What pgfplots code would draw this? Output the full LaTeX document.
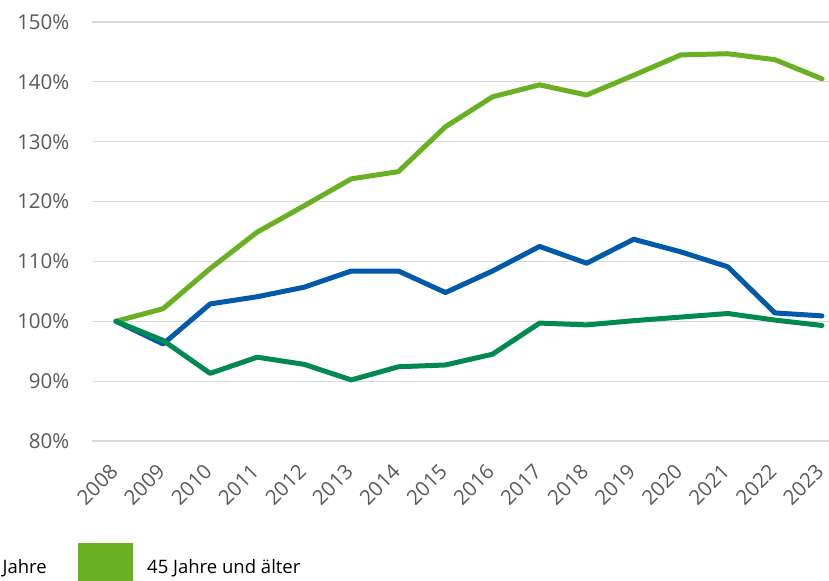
\documentclass[border=0pt]{standalone}
\usepackage{fontspec}
\setmainfont{Open Sans}
\usepackage{pgfplots}
\pgfplotsset{compat=1.18}
\definecolor{lgreen}{HTML}{6AB023}
\definecolor{dblue}{HTML}{005AA9}
\definecolor{dgreen}{HTML}{008A50}
\definecolor{gridc}{HTML}{D9D9D9}
\definecolor{tickc}{HTML}{595959}
\newcommand{\tfont}{\fontsize{20.5bp}{24bp}\selectfont}
\newcommand{\lfont}{\fontsize{18.5bp}{22bp}\selectfont}
\begin{document}
\begin{tikzpicture}
\clip (0bp,0bp) rectangle (829bp,581bp);
\begin{axis}[
  at={(92.5bp,140bp)}, anchor=south west,
  scale only axis, width=736.5bp, height=419bp,
  xmin=2007.5, xmax=2023.15, ymin=80, ymax=150,
  xtick={2008,2009,...,2023}, ytick={80,90,...,150},
  axis line style={draw=none},
  major tick style={draw=none},
  ymajorgrids, grid style={gridc, line width=1.2bp},
  /pgf/number format/assume math mode=true,
  /pgf/number format/1000 sep={},
  tick label style={font=\tfont, text=tickc},
  yticklabel={\pgfmathprintnumber{\tick}\%},
  yticklabel style={anchor=east, inner sep=0pt, xshift=-23bp},
  xticklabel style={xshift=-2bp, yshift=-27bp, rotate=45, anchor=east, inner sep=0pt},
  clip=false,
  every axis plot/.append style={line width=5bp, line join=round, line cap=round},
]
\addplot[lgreen] coordinates {
 (2008,100) (2009,102.1) (2010,108.8) (2011,114.9) (2012,119.3) (2013,123.8)
 (2014,125.0) (2015,132.5) (2016,137.5) (2017,139.5) (2018,137.8) (2019,141.1)
 (2020,144.5) (2021,144.7) (2022,143.7) (2023,140.5)};
\addplot[dblue] coordinates {
 (2008,100) (2009,96.2) (2010,102.9) (2011,104.1) (2012,105.7) (2013,108.4)
 (2014,108.4) (2015,104.8) (2016,108.4) (2017,112.5) (2018,109.7) (2019,113.7)
 (2020,111.6) (2021,109.1) (2022,101.4) (2023,100.9)};
\addplot[dgreen] coordinates {
 (2008,100) (2009,96.8) (2010,91.3) (2011,94.0) (2012,92.8) (2013,90.2)
 (2014,92.4) (2015,92.7) (2016,94.5) (2017,99.7) (2018,99.4) (2019,100.1)
 (2020,100.7) (2021,101.3) (2022,100.2) (2023,99.3)};
\end{axis}
\fill[lgreen] (78bp,-10bp) rectangle (133bp,38bp);
\node[anchor=base east, inner sep=0pt, font=\lfont] at (47bp,8bp) {Jahre};
\node[anchor=base west, inner sep=0pt, font=\lfont] at (147bp,8bp) {45 Jahre und älter};
\end{tikzpicture}
\end{document}
